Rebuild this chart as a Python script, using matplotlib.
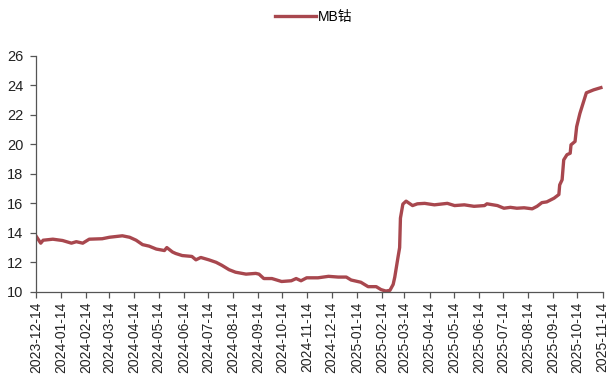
import matplotlib
matplotlib.use("Agg")
import matplotlib.pyplot as plt
import matplotlib.dates as mdates
import pandas as pd

plt.rcParams['font.family'] = ['Liberation Sans', 'Noto Sans CJK SC', 'DejaVu Sans']

# MB cobalt price
dates = ["2023-12-14", "2023-12-20", "2023-12-23", "2024-01-04", "2024-01-16",
         "2024-01-27", "2024-02-02", "2024-02-10", "2024-02-18", "2024-03-05",
         "2024-03-14", "2024-03-30", "2024-04-08", "2024-04-16", "2024-04-24",
         "2024-05-02", "2024-05-11", "2024-05-21", "2024-05-24", "2024-05-31",
         "2024-06-04", "2024-06-12", "2024-06-24", "2024-06-29", "2024-07-05",
         "2024-07-15", "2024-07-24", "2024-07-31", "2024-08-09", "2024-08-17",
         "2024-08-30", "2024-09-11", "2024-09-15", "2024-09-21", "2024-10-01",
         "2024-10-13", "2024-10-25", "2024-10-31", "2024-11-06", "2024-11-13",
         "2024-11-27", "2024-12-10", "2024-12-22", "2025-01-01", "2025-01-07",
         "2025-01-19", "2025-01-28", "2025-02-07", "2025-02-13", "2025-02-19",
         "2025-02-24", "2025-02-28", "2025-03-02", "2025-03-06", "2025-03-08",
         "2025-03-09", "2025-03-12", "2025-03-16", "2025-03-20", "2025-03-24",
         "2025-03-30", "2025-04-08", "2025-04-20", "2025-05-06", "2025-05-15",
         "2025-05-27", "2025-06-08", "2025-06-21", "2025-06-24", "2025-07-07",
         "2025-07-15", "2025-07-23", "2025-07-31", "2025-08-09", "2025-08-19",
         "2025-08-25", "2025-08-31", "2025-09-06", "2025-09-15", "2025-09-21",
         "2025-09-22", "2025-09-25", "2025-09-27", "2025-10-01", "2025-10-05",
         "2025-10-06", "2025-10-11", "2025-10-13", "2025-10-17", "2025-10-21",
         "2025-10-25", "2025-11-03", "2025-11-12"]
mb_cobalt = [13.8, 13.3, 13.5, 13.57, 13.48,
             13.3, 13.4, 13.3, 13.57, 13.6,
             13.7, 13.8, 13.7, 13.5, 13.2,
             13.1, 12.9, 12.8, 13.0, 12.7,
             12.6, 12.46, 12.4, 12.17, 12.33,
             12.17, 12.0, 11.8, 11.5, 11.33,
             11.2, 11.25, 11.2, 10.9, 10.9,
             10.7, 10.75, 10.9, 10.75, 10.95,
             10.95, 11.05, 11.0, 11.0, 10.8,
             10.65, 10.35, 10.35, 10.15, 10.05,
             10.1, 10.5, 11.0, 12.35, 13.0,
             15.0, 15.95, 16.15, 16.0, 15.85,
             15.97, 16.0, 15.9, 16.0, 15.85,
             15.9, 15.8, 15.85, 15.97, 15.85,
             15.67, 15.73, 15.67, 15.7, 15.63,
             15.8, 16.05, 16.1, 16.35, 16.6,
             17.25, 17.6, 18.95, 19.3, 19.4,
             19.97, 20.2, 21.2, 22.1, 22.8,
             23.5, 23.7, 23.85]

# monthly ticks on the 14th
tick_dates = pd.date_range("2023-12-01", "2025-11-01", freq="MS") + pd.Timedelta(days=13)

x = pd.to_datetime(dates)

fig = plt.figure(figsize=(6.08, 3.78), dpi=100)
ax = fig.add_axes([0.059, 0.228, 0.932, 0.624])

ax.plot(x, mb_cobalt, color="#A8474E", lw=2.4, label="MB钴", solid_joinstyle="round")

ax.set_ylim(10, 26)
ax.set_yticks(range(10, 27, 2))
ax.set_xlim(pd.Timestamp("2023-12-14"), pd.Timestamp("2025-11-14"))
ax.set_xticks(tick_dates)
ax.xaxis.set_major_formatter(mdates.DateFormatter("%Y-%m-%d"))
plt.setp(ax.get_xticklabels(), rotation=90, fontsize=10, color="#222222")
plt.setp(ax.get_yticklabels(), fontsize=10.5, color="#222222")

for s in ["top", "right"]:
    ax.spines[s].set_visible(False)
for s in ["left", "bottom"]:
    ax.spines[s].set_color("#555555")
    ax.spines[s].set_linewidth(0.9)
ax.tick_params(axis="both", direction="out", length=4, width=0.9, color="#555555")
ax.tick_params(axis="x", pad=3)
ax.tick_params(axis="y", pad=5)

ax.legend(loc="center", bbox_to_anchor=(0.49, 1.165), frameon=False,
          fontsize=10, handlelength=3.0, handletextpad=0.1)

fig.savefig("out.png", dpi=100)
